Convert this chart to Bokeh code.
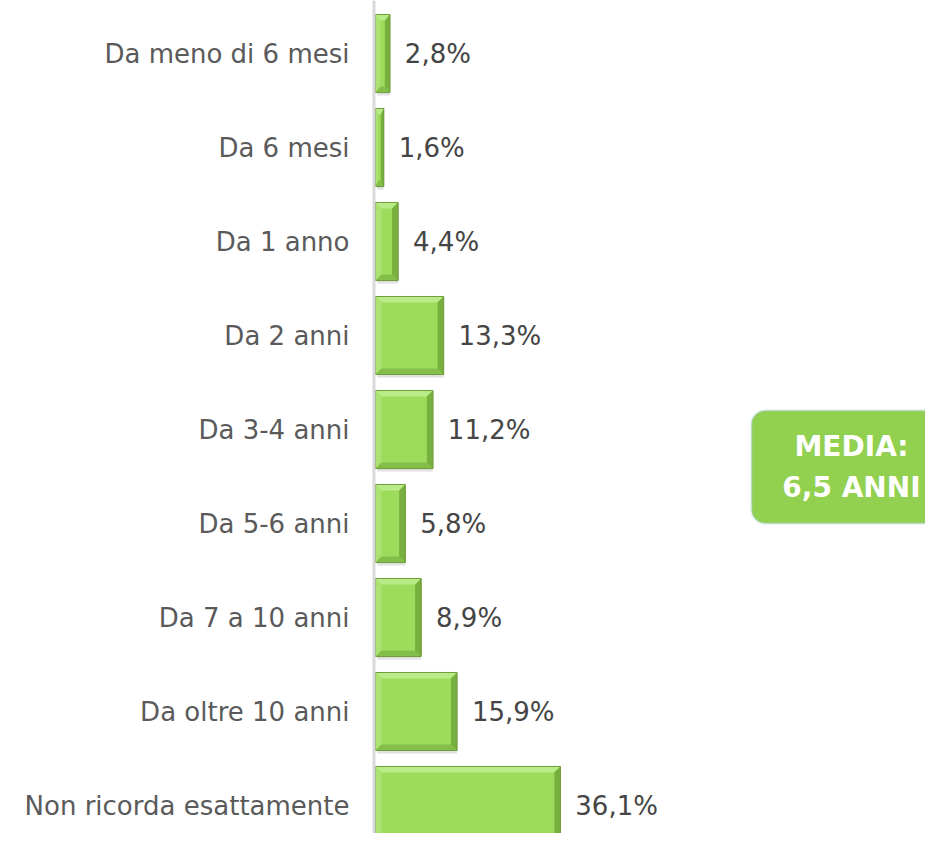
from bokeh.plotting import figure
from bokeh.models import Range1d, Span, BoxAnnotation, ColumnDataSource
from bokeh.core.properties import value
from bokeh.embed import file_html
from bokeh.resources import INLINE

categories = ["Da meno di 6 mesi", "Da 6 mesi", "Da 1 anno", "Da 2 anni", "Da 3-4 anni",
              "Da 5-6 anni", "Da 7 a 10 anni", "Da oltre 10 anni", "Non ricorda esattamente"]
values = [2.8, 1.6, 4.4, 13.3, 11.2, 5.8, 8.9, 15.9, 36.1]
value_labels = ["2,8%", "1,6%", "4,4%", "13,3%", "11,2%", "5,8%", "8,9%", "15,9%", "36,1%"]
media_lines = ["MEDIA:", "6,5 ANNI"]

W, H = 925, 833
PX_X = 5.12   # px per percentage point
PX_Y = 94.0   # px per category
ZX, ZY = 375, 53  # pixel position of value 0 / first category
x0 = (0 - ZX) / PX_X
x1 = (W - ZX) / PX_X
y_top = (0 - ZY) / PX_Y
y_bot = (H - ZY) / PX_Y

p = figure(width=W, height=H, output_backend="svg", toolbar_location=None,
           x_range=Range1d(x0, x1), y_range=Range1d(y_bot, y_top), min_border=0)
p.axis.visible = False
p.grid.visible = False
p.outline_line_color = None
p.background_fill_color = "white"
p.border_fill_color = "white"

ys = list(range(len(categories)))
half = 0.415
src = ColumnDataSource(dict(y=ys, v=values, lab=value_labels, cat=categories,
                            ysh=[y + 3 / PX_Y for y in ys]))

# axis line
p.add_layout(Span(location=-1.5 / PX_X, dimension="height", line_color="#d9d9d9", line_width=3))

# shadow
p.hbar(y="ysh", left=0.3, right="v", height=2 * half, source=src,
       fill_color="#000000", fill_alpha=0.12, line_color=None)

# main bars
p.hbar(y="y", left=0, right="v", height=2 * half, source=src,
       fill_color="#9DDC5B", line_color="#6F9F3B", line_width=1)

# bevels
bx_full, by = 6 / PX_X, 6 / PX_Y
tops, bots, rights, lefts = ([], []), ([], []), ([], []), ([], [])
for y, v in zip(ys, values):
    bx = min(bx_full, v * 0.35)
    t, b = y - half, y + half
    tops[0].append([0, v, v - bx, bx]); tops[1].append([t, t, t + by, t + by])
    bots[0].append([0, v, v - bx, bx]); bots[1].append([b, b, b - by, b - by])
    rights[0].append([v, v, v - bx, v - bx]); rights[1].append([t, b, b - by, t + by])
    lefts[0].append([0, 0, bx, bx]); lefts[1].append([t, b, b - by, t + by])
p.patches(xs=tops[0], ys=tops[1], fill_color="#B9EC88", line_color=None)
p.patches(xs=lefts[0], ys=lefts[1], fill_color="#ABE272", line_color=None)
p.patches(xs=bots[0], ys=bots[1], fill_color="#84BE4A", line_color=None)
p.patches(xs=rights[0], ys=rights[1], fill_color="#78B03F", line_color=None)
p.hbar(y="y", left=0, right="v", height=2 * half, source=src,
       fill_color=None, line_color="#6F9F3B", line_width=1)

# category labels
p.text(x=0, y="y", text="cat", source=src, x_offset=-26, text_align="right",
       text_baseline="middle", text_font=value("DejaVu Sans"), text_font_size="26px",
       text_color="#5a5a5a")
# value labels
p.text(x="v", y="y", text="lab", source=src, x_offset=15, text_align="left",
       text_baseline="middle", text_font=value("DejaVu Sans"), text_font_size="26px",
       text_color="#454545")

# MEDIA box
bl = (751 - ZX) / PX_X
p.add_layout(BoxAnnotation(left=bl, right=x1 + 20, top=(410 - ZY) / PX_Y, bottom=(523 - ZY) / PX_Y,
                           fill_color="#92D050", fill_alpha=1, line_color="#A9D2E3", line_width=2.5,
                           border_radius=14, level="underlay"))
p.text(x=[(851 - ZX) / PX_X] * 2, y=[(446 - ZY) / PX_Y, (487 - ZY) / PX_Y], text=media_lines,
       text_align="center", text_baseline="middle", text_font=value("DejaVu Sans"),
       text_font_style="bold", text_font_size="28px", text_color="white")

open("out.html", "w").write(file_html(p, INLINE))
